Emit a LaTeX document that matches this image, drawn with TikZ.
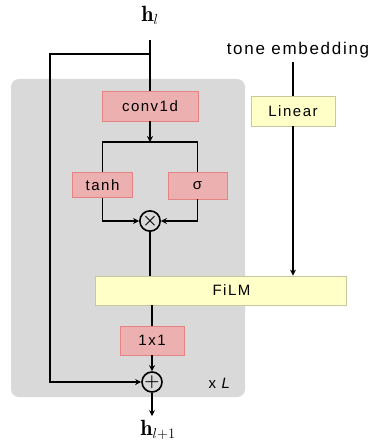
\documentclass[tikz,border=0pt]{standalone}
\usepackage{fontspec}
\usepackage{amsmath}
\usetikzlibrary{arrows.meta}
\newfontfamily\labelfont[LetterSpace=10]{Liberation Sans}
\definecolor{boxgray}{RGB}{217,217,217}
\definecolor{boxpink}{RGB}{236,176,176}
\definecolor{linepink}{RGB}{230,130,130}
\definecolor{boxyellow}{RGB}{255,255,200}
\definecolor{lineyellow}{RGB}{200,200,160}
\begin{document}
\begin{tikzpicture}[x=1pt, y=-1pt, line width=1.6pt,
  >={Stealth[length=6pt,width=6pt]},
  pinkbox/.style={draw=linepink, line width=0.8pt, fill=boxpink, inner sep=0pt,
    font=\labelfont\fontsize{15}{17}\selectfont},
  yellowbox/.style={draw=lineyellow, line width=0.8pt, fill=boxyellow, inner sep=0pt,
    font=\labelfont\fontsize{15}{17}\selectfont},
  op/.style={draw, circle, minimum size=20pt, inner sep=0pt, font=\fontsize{18}{18}\selectfont}]
\useasboundingbox (0,0) rectangle (376,443);
% repeated block
\fill [boxgray, rounded corners=8pt] (11,79) rectangle (245,397);
\node [font=\labelfont\fontsize{15}{17}\selectfont] (xl) at (220,383) {x \textit{L}};
% input / output
\node [font=\fontsize{22}{26}\selectfont] (hin) at (150,15) {$\mathbf{h}_l$};
\node [font=\fontsize{22}{26}\selectfont] (hout) at (158,430) {$\mathbf{h}_{l+1}$};
\coordinate (top) at (150,40);
\coordinate (split) at (150,54);
\coordinate (skip) at (50,382);
% gated unit
\node [pinkbox, minimum width=96pt, minimum height=30pt] (conv) at (150,106) {conv1d};
\coordinate (gate) at (150,142);
\node [pinkbox, minimum width=60pt, minimum height=25pt] (tanh) at (102.5,185) {tanh};
\node [pinkbox, minimum width=59pt, minimum height=27pt] (sigma) at (197.5,185.5) {σ};
\node [op] (mult) at (150,221) {$\boldsymbol{\times}$};
% conditioning
\node [font=\labelfont\fontsize{17}{20}\selectfont] (tone) at (298,50) {tone embedding};
\node [yellowbox, minimum width=84pt, minimum height=30pt] (linear) at (293,111) {Linear};
\node [yellowbox, minimum width=251pt, minimum height=29pt] (film) at (220.5,290.5) {\hspace*{22pt}FiLM};
\node [pinkbox, minimum width=64pt, minimum height=29pt] (onebyone) at (152,340.5) {1x1};
\node [op] (plus) at (152,382) {$\boldsymbol{+}$};
% connectors
\draw (top) -- (conv);
\draw [->] (split) -| (skip) -- (plus);
\draw [->] (conv) -- (gate);
\draw (tanh) |- (gate) -| (sigma);
\draw [->] (tanh) |- (mult);
\draw [->] (sigma) |- (mult);
\draw (mult) -- (mult |- film.north);
\draw (linear |- tone.south) -- (linear);
\draw [->] (linear) -- (linear |- film.north);
\draw (onebyone |- film.south) -- (onebyone);
\draw [->] (onebyone) -- (plus);
\draw [->] (plus) -- (plus |- hout.north);
\end{tikzpicture}
\end{document}
